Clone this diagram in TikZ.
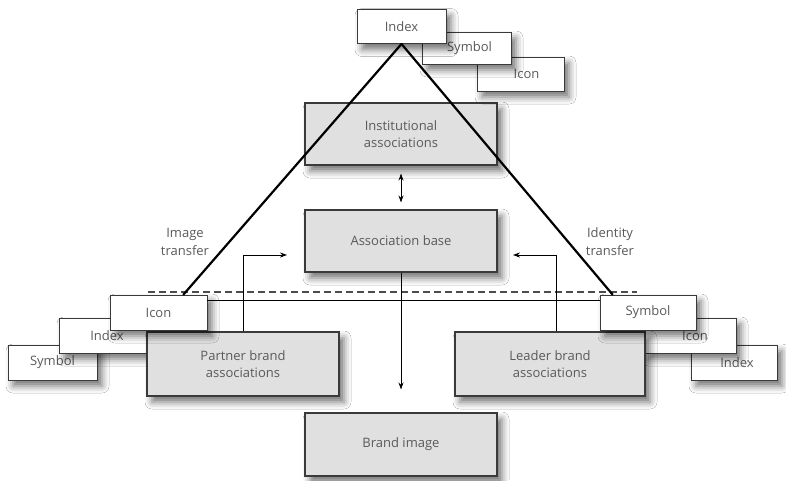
\documentclass[tikz,border=0pt]{standalone}
\usepackage{fontspec}
\setmainfont{Open Sans}
\usetikzlibrary{arrows.meta,shadows.blur}
\definecolor{boxgrey}{HTML}{E0E0E0}
\definecolor{inkgrey}{HTML}{5A5A5A}
\definecolor{edgegrey}{HTML}{3A3A3A}
\begin{document}
\begin{tikzpicture}[x=1pt,y=-1pt,
  softshadow/.style={blur shadow={shadow xshift=5pt,shadow yshift=-6pt,shadow blur radius=7pt,shadow opacity=55}},
  assocbox/.style={draw=edgegrey,line width=1.1pt,fill=boxgrey,inner sep=0pt,
    minimum width=192pt,minimum height=62pt,align=center,text=inkgrey,
    font=\fontsize{13}{17}\selectfont,softshadow},
  signbox/.style={draw=edgegrey,line width=0.9pt,fill=white,inner sep=0pt,
    minimum height=35pt,text=inkgrey,font=\fontsize{13}{16}\selectfont,softshadow},
  plainlabel/.style={align=center,text=inkgrey,font=\fontsize{13}{18}\selectfont},
  link/.style={draw=black,line width=0.8pt},
  tip/.style={-{Stealth[length=7pt,width=5pt]}},
  triline/.style={draw=black,line width=2.2pt,line cap=round},
  divider/.style={draw=black!70,line width=1.3pt,dash pattern=on 7pt off 4pt}
]
\useasboundingbox (0,0) rectangle (786,480);
\fill[white] (0,0) rectangle (786,480);

% free ends of the connectors
\coordinate (dashL) at (148,292);
\coordinate (dashR) at (637,292);
\coordinate (feedL) at (287,255);
\coordinate (feedR) at (513,255);

% central column
\node[assocbox] (inst) at (401,134) {Institutional\\associations};
\node[assocbox] (assoc) at (401,241) {Association base};
\node[assocbox,minimum height=63pt] (brand) at (401,444.5) {Brand image};

% lines behind the side boxes
\draw[divider] (dashL) -- (dashR);
\draw[<->,>={Stealth[length=7pt,width=5pt]},link] ([yshift=-8pt]inst.south) -- ([yshift=7pt]assoc.north);
\draw[link,tip] (assoc.south) -- ([yshift=23pt]brand.north);

% left group
\node[signbox,minimum width=89pt] (symL) at (52.5,362.5) {Symbol};
\node[signbox,minimum width=96pt] (idxL) at (107,335.5) {Index};
\node[assocbox,minimum height=64pt] (partner) at (243,364) {Partner brand\\associations};

% right group
\node[signbox,minimum width=86pt] (idxR) at (734,362.5) {\hspace*{6pt}Index};
\node[signbox,minimum width=92pt] (icoR) at (690,335.5) {\hspace*{10pt}Icon};
\node[assocbox,minimum width=190pt,minimum height=64pt] (leader) at (550,364) {Leader brand\\associations};

% feedback arrows into the association base
\draw[link,tip] (partner.north) |- (feedL);
\draw[link,tip] ([xshift=6pt]leader.north) |- (feedR);

% front sign boxes of the side groups
\node[signbox,minimum width=97pt] (icoL) at (158.5,312.5) {Icon};
\node[signbox,minimum width=96pt] (symR) at (648,312.5) {Symbol};
\draw[link,line width=1.1pt] ([yshift=-6pt]icoL.north east) -- ([yshift=-6pt]symR.north west);

% top group
\node[signbox,minimum width=87pt,minimum height=34pt] (icoT) at (520.5,74) {\hspace*{12pt}Icon};
\node[signbox,minimum width=89pt,minimum height=32pt] (symT) at (466.5,48) {\hspace*{6pt}Symbol};
\node[signbox,minimum width=89pt,minimum height=34pt] (idxT) at (401.5,26.5) {Index};

% transfer triangle
\draw[triline] (idxT.south) -- ([xshift=-24pt]icoL.north east);
\draw[triline] (idxT.south) -- ([xshift=13pt]symR.north west);

% transfer labels
\node[plainlabel] (imgtr) at (185,242) {Image\\transfer};
\node[plainlabel] (idtr) at (610,242) {Identity\\transfer};
\end{tikzpicture}
\end{document}
